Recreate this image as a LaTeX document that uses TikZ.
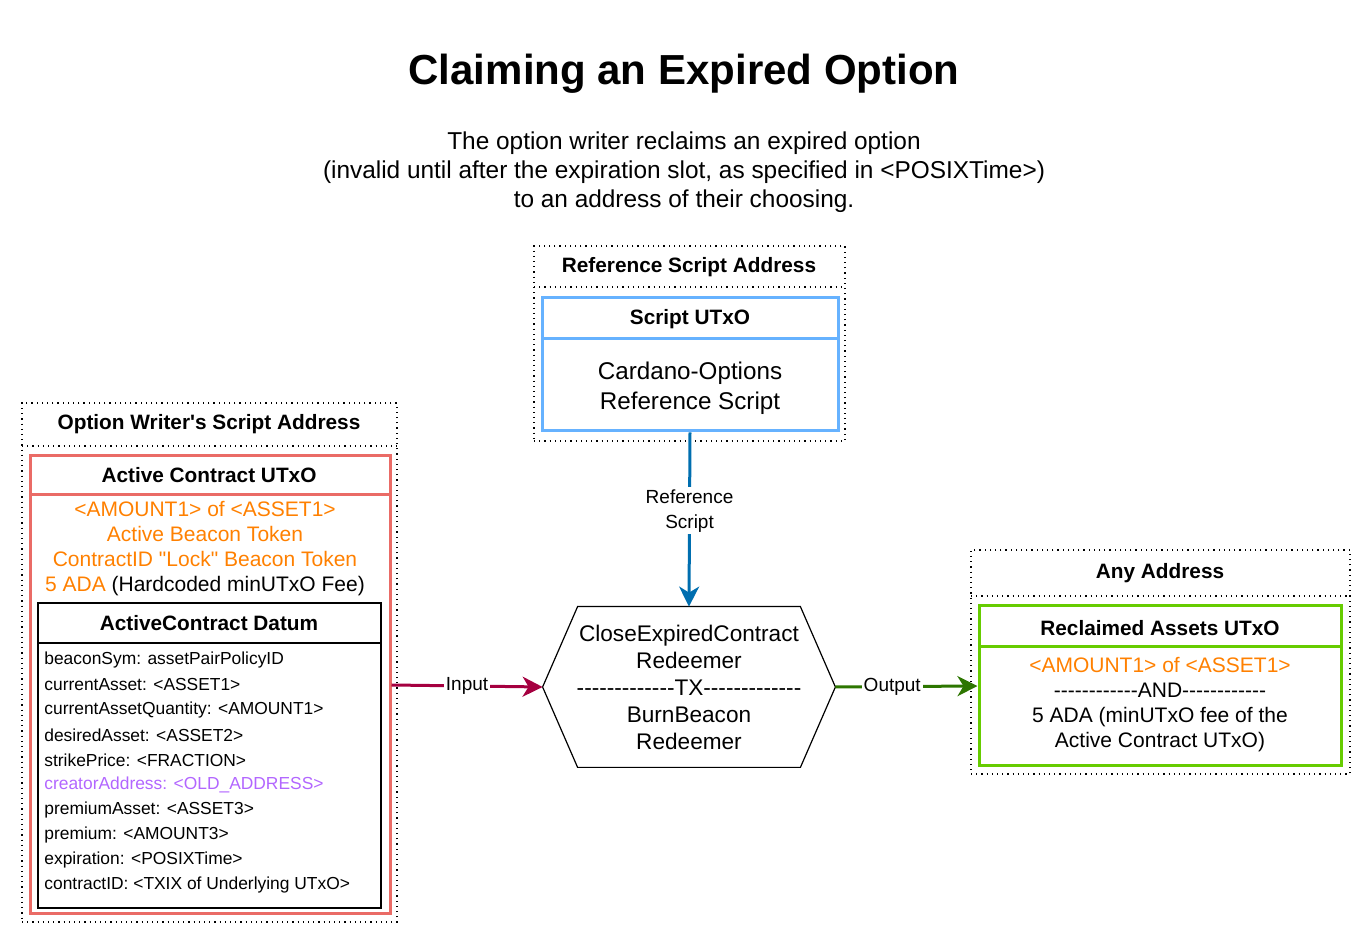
\documentclass[tikz,border=0pt]{standalone}
\usepackage{fontspec}
\setmainfont{Liberation Sans}[Ligatures=TeXOff]
\usepackage{xcolor}
\usetikzlibrary{arrows.meta,positioning,fit}
\definecolor{utxored}{HTML}{EA6B66}
\definecolor{utxoblue}{HTML}{66B2FF}
\definecolor{utxogreen}{HTML}{66CC00}
\definecolor{assetorange}{HTML}{FF8000}
\definecolor{addrpurple}{HTML}{B266FF}
\definecolor{refblue}{HTML}{006EAF}
\definecolor{inputred}{HTML}{A50040}
\definecolor{outputgreen}{HTML}{2D7600}
\tikzset{
    address/.style={draw, dotted, line width=0.6pt, inner sep=0pt},
    utxo/.style={draw, line width=1.5pt, inner sep=0pt},
    datumbox/.style={draw, line width=0.8pt, inner sep=0pt},
    headtext/.style={font=\bfseries\fontsize{10.4}{12}\selectfont},
    bodytext/.style={align=center, font=\fontsize{10.5}{12.5}\selectfont},
    itemtext/.style={anchor=west, font=\fontsize{8.7}{10}\selectfont, inner sep=0pt},
    flow/.style={line width=1.5pt, -{Stealth[length=10pt, width=10pt, inset=3pt]}},
    flowlabel/.style={fill=white, text=black, inner sep=1pt, align=center,
    font=\fontsize{9.5}{12.5}\selectfont},
}

\begin{document}
\begin{tikzpicture}[x=0.5pt, y=-0.5pt]
            \useasboundingbox (0,0) rectangle (1372,945);
            % --- title ---
            \node[font=\bfseries\fontsize{21}{25}\selectfont] (title) at (684,74) {Claiming an Expired Option};
            \node[align=center, font=\fontsize{12.2}{14.5}\selectfont] (subtitle) at (684,172)
                {The option writer reclaims an expired option\\(invalid until after the expiration slot, as specified in <POSIXTime>)\\to an address of their choosing.};
            % --- option writer's script address ---
            \node[address, fit={(22,403) (397,922)}] (writeraddr) {};
            \draw[dotted, line width=0.6pt] (22,446) -- (397,446);
            \node[headtext] at (209,424) {Option Writer\textquotesingle s Script Address};
            \node[utxo, draw=utxored, fit={(30,456) (390,914)}] (activeutxo) {};
            \draw[utxored, line width=1.5pt] (30,495) -- (390,495);
            \node[headtext] at (209,475) {Active Contract UTxO};
            \node[bodytext, text=assetorange] at (205,549)
                {<AMOUNT1> of <ASSET1>\\Active Beacon Token\\ContractID "Lock" Beacon Token\\5 ADA \textcolor{black}{(Hardcoded minUTxO Fee)}};
            \node[datumbox, fit={(38,603) (381,908)}] (datum) {};
            \draw[line width=0.8pt] (38,643) -- (381,643);
            \node[headtext] at (209,623) {ActiveContract Datum};
            \foreach \item/\col [count=\i from 0] in {beaconSym: assetPairPolicyID/black,
                currentAsset: <ASSET1>/black, currentAssetQuantity: <AMOUNT1>/black,
                desiredAsset: <ASSET2>/black, strikePrice: <FRACTION>/black,
                creatorAddress: <OLD\_ADDRESS>/addrpurple, premiumAsset: <ASSET3>/black,
                premium: <AMOUNT3>/black, expiration: <POSIXTime>/black,
                contractID: <TXIX of Underlying UTxO>/black}
                \node[itemtext, text=\col] at (44,{660+25*\i}) {\item};
            % --- reference script address ---
            \node[address, fit={(534,246) (845,441)}] (refaddr) {};
            \draw[dotted, line width=0.6pt] (534,287) -- (845,287);
            \node[headtext] at (689,267) {Reference Script Address};
            \node[utxo, draw=utxoblue, fit={(542,298) (838,431)}] (scriptutxo) {};
            \draw[utxoblue, line width=1.5pt] (542,339) -- (838,339);
            \node[headtext] at (690,319) {Script UTxO};
            \node[bodytext, font=\fontsize{12.1}{15}\selectfont] at (690,388) {Cardano-Options\\Reference Script};
            % --- transaction ---
            \node[bodytext, font=\fontsize{11.3}{13.5}\selectfont, minimum width=146pt, minimum height=80pt] (tx) at (689,687)
                {CloseExpiredContract\\Redeemer\\-------------TX-------------\\BurnBeacon\\Redeemer};
            \draw[line width=0.6pt] (tx.west) -- ([xshift=17.5pt]tx.north west) -- ([xshift=-17.5pt]tx.north east)
                -- (tx.east) -- ([xshift=-17.5pt]tx.south east) -- ([xshift=17.5pt]tx.south west) -- cycle;
            % --- any address ---
            \node[address, fit={(971,550) (1350,774)}] (anyaddr) {};
            \draw[dotted, line width=0.6pt] (971,596) -- (1350,596);
            \node[headtext] at (1160,573) {Any Address};
            \node[utxo, draw=utxogreen, fit={(979,606) (1341,766)}] (reclaimed) {};
            \draw[utxogreen, line width=1.5pt] (979,647) -- (1341,647);
            \node[headtext] at (1160,628) {Reclaimed Assets UTxO};
            \node[bodytext] at (1160,705)
                {\textcolor{assetorange}{<AMOUNT1> of <ASSET1>}\\------------AND------------\\5 ADA (minUTxO fee of the\\Active Contract UTxO)};
            % --- connectors ---
            \draw[flow, refblue] (scriptutxo.south) -- node[flowlabel, pos=0.45] {Reference\\Script} (tx.north);
            \draw[flow, inputred] (activeutxo.east) -- node[flowlabel] {Input} (tx.west);
            \draw[flow, outputgreen] (tx.east) -- node[flowlabel, pos=0.4] {Output} (reclaimed.west);
        \end{tikzpicture}
\end{document}
